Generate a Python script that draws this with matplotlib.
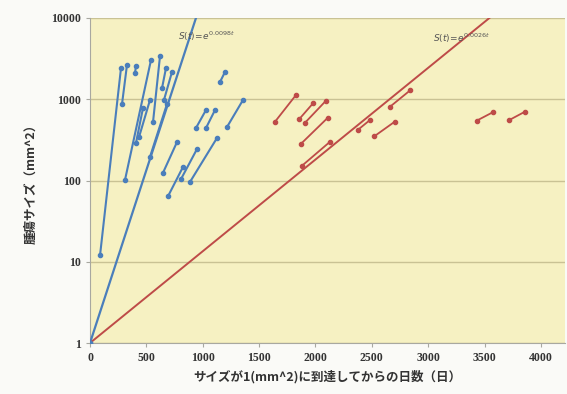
import numpy as np
import matplotlib.pyplot as plt
from matplotlib.ticker import FixedLocator, NullLocator

plt.rcParams['font.family'] = ['Noto Sans CJK JP', 'DejaVu Sans']

# tumour growth segments: (t_start, t_end), (size_start, size_end)
blue_t = [(89, 275), (284, 328), (399, 408), (310, 541), (532, 683),
          (559, 621), (408, 470), (435, 532), (639, 674), (656, 727),
          (647, 772), (692, 825), (887, 1126), (807, 949), (940, 1029),
          (1029, 1109), (1215, 1357), (1153, 1197)]
blue_s = [(12, 2425), (874, 2640), (2104, 2567), (101, 3041), (195, 874),
          (525, 3405), (290, 780), (343, 979), (1375, 2425), (979, 2163),
          (124, 298), (64, 147), (96, 333), (104, 244), (443, 738),
          (443, 738), (455, 979), (1630, 2163)]

red_t = [(1641, 1827), (1854, 1978), (1907, 2093), (1869, 2111), (1878, 2129),
         (2374, 2483), (2519, 2705), (2661, 2838), (3430, 3572), (3719, 3858)]
red_s = [(529, 1128), (566, 891), (514, 960), (281, 596), (151, 300),
         (418, 555), (348, 532), (809, 1282), (545, 691), (555, 703)]

# fitted exponential rates
k_fast = 0.0098
k_slow = 0.0026

blue = '#4A7EBB'
red = '#BE4B48'

fig = plt.figure(figsize=(5.67, 3.94), dpi=100)
fig.patch.set_facecolor('#FAFAF7')
ax = fig.add_axes([90 / 567, 1 - 343 / 394, 475 / 567, 325 / 394])
ax.set_facecolor('#F6F1C2')

ax.set_yscale('log')
ax.set_ylim(1, 10000)
ax.set_xlim(0, 4213)

ax.yaxis.set_major_locator(FixedLocator([1, 10, 100, 1000, 10000]))
ax.yaxis.set_minor_locator(NullLocator())
ax.set_yticklabels(['1', '10', '100', '1000', '10000'])
ax.set_xticks(np.arange(0, 4001, 500))
ax.grid(axis='y', color='#C9C294', linewidth=1.0)
ax.set_axisbelow(True)

for side in ['top', 'right']:
    ax.spines[side].set_visible(False)
for side in ['left', 'bottom']:
    ax.spines[side].set_color('#A8A8A0')
ax.tick_params(length=3, color='#A8A8A0', labelsize=8.5, labelcolor='#333333')
for lab in ax.get_xticklabels() + ax.get_yticklabels():
    lab.set_family('Liberation Serif')
    lab.set_fontweight('bold')

# model curves
tt = np.linspace(0, 4213, 400)
ax.plot(tt, np.exp(k_fast * tt), color=blue, lw=1.6, zorder=3)
ax.plot(tt, np.exp(k_slow * tt), color=red, lw=1.4, zorder=3)
ax.plot([0], [1], 'o', color=blue, ms=3.2, zorder=4)

for t, s in zip(blue_t, blue_s):
    ax.plot(t, s, '-o', color=blue, lw=1.5, ms=3, zorder=4)
for t, s in zip(red_t, red_s):
    ax.plot(t, s, '-o', color=red, lw=1.3, ms=3, zorder=4)

ax.text(780, 6000, r'$S(t)\!=\!e^{0.0098t}$', fontsize=6.5, color='#555555',
        family='DejaVu Serif', style='italic', ha='left', va='center')
ax.text(3040, 5600, r'$S(t)\!=\!e^{0.0026t}$', fontsize=6.5, color='#555555',
        family='DejaVu Serif', style='italic', ha='left', va='center')

ax.set_xlabel('サイズが1(mm^2)に到達してからの日数（日）', fontsize=9,
              fontweight='bold', color='#333333', labelpad=4)
ax.set_ylabel('腫瘍サイズ（mm^2）', fontsize=9, fontweight='bold',
              color='#333333', labelpad=10)

fig.savefig('out.png', dpi=100, facecolor=fig.get_facecolor())
